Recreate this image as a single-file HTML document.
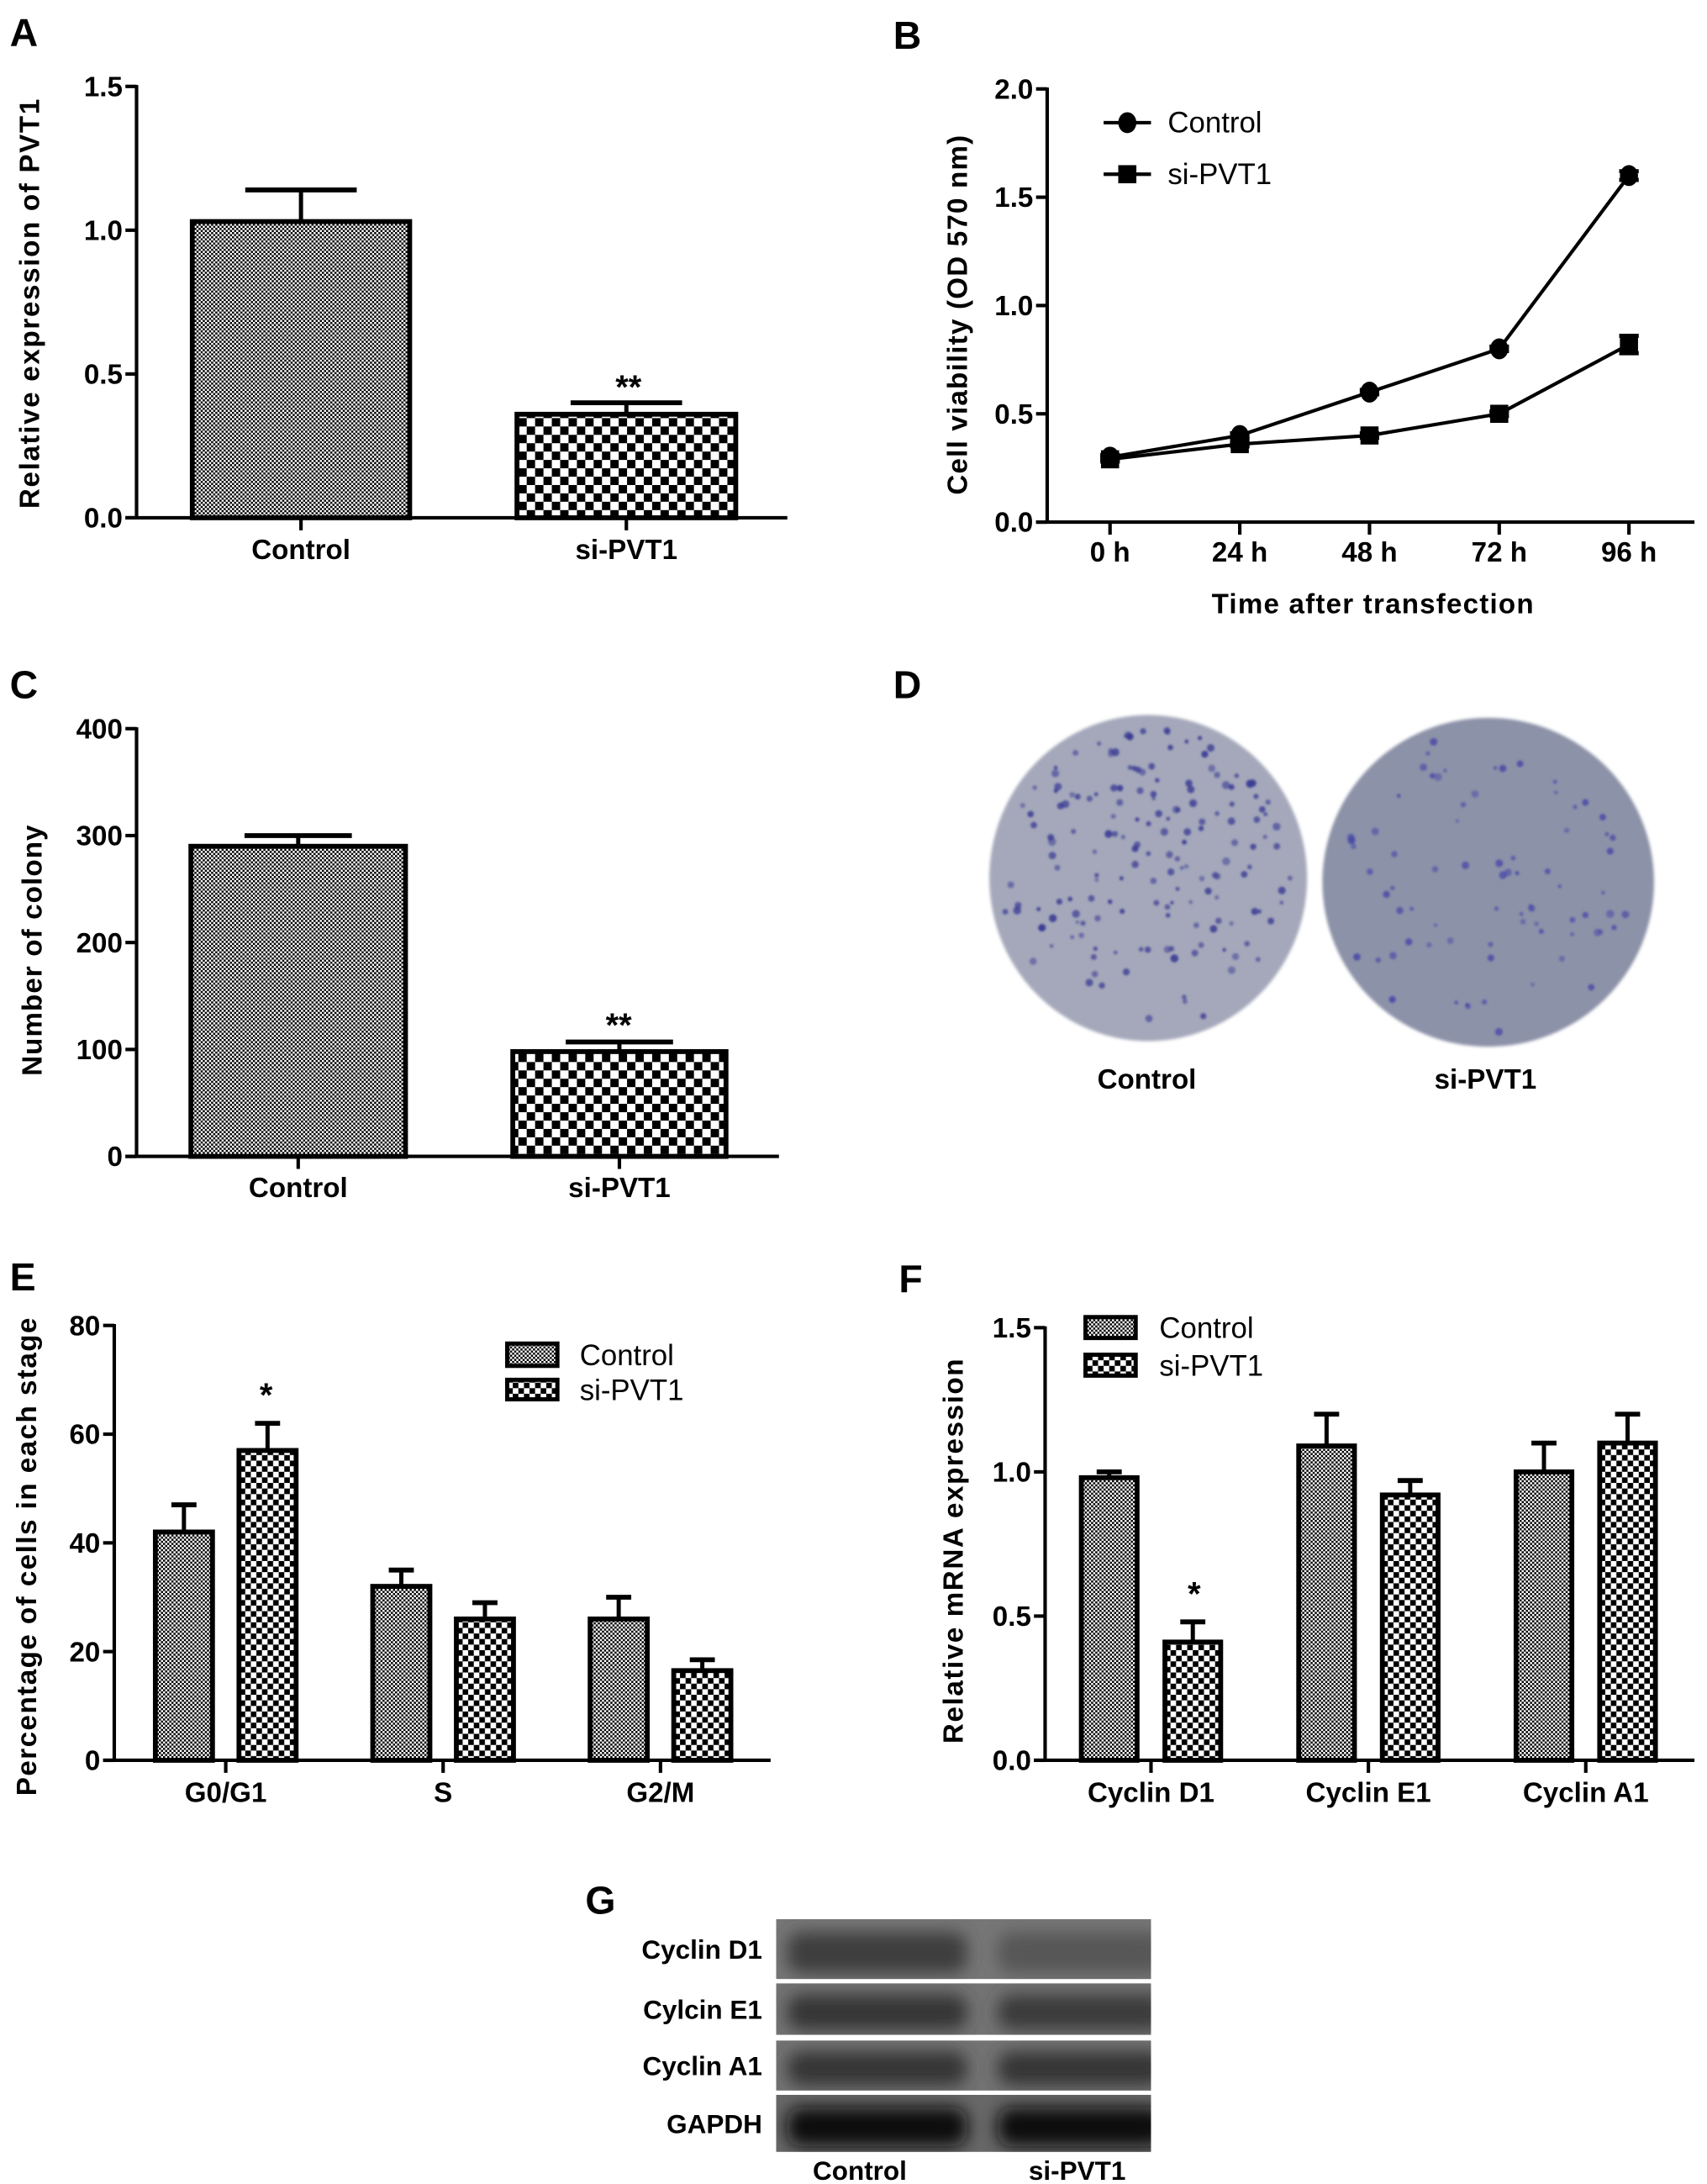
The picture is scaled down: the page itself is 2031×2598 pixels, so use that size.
<!DOCTYPE html>
<html><head><meta charset="utf-8">
<style>
html,body{margin:0;padding:0;background:#fff;}
svg{display:block;}
text{font-family:"Liberation Sans",Arial,sans-serif;}
</style></head>
<body>
<svg id="fig" xmlns="http://www.w3.org/2000/svg" width="2031" height="2598" viewBox="0 0 1225 1567" preserveAspectRatio="none">
<defs>
<pattern id="pFine" width="3" height="3" patternUnits="userSpaceOnUse">
<rect width="3" height="3" fill="#fff"/><rect width="1.5" height="1.5" fill="#000"/><rect x="1.5" y="1.5" width="1.5" height="1.5" fill="#000"/>
</pattern>
<pattern id="pCoarse" width="12" height="12" patternUnits="userSpaceOnUse">
<rect width="12" height="12" fill="#fff"/><rect width="6" height="6" fill="#000"/><rect x="6" y="6" width="6" height="6" fill="#000"/>
</pattern>
<pattern id="pCoarseL" width="8" height="8" patternUnits="userSpaceOnUse">
<rect width="8" height="8" fill="#fff"/><rect width="4" height="4" fill="#000"/><rect x="4" y="4" width="4" height="4" fill="#000"/>
</pattern>
<filter id="blur6" x="-20%" y="-50%" width="140%" height="200%"><feGaussianBlur stdDeviation="6"/></filter>
<filter id="blur1"><feGaussianBlur stdDeviation="1.2"/></filter>
<filter id="blur2"><feGaussianBlur stdDeviation="0.8"/></filter>
</defs>
<g id="root"></g>
</svg>
<script>
// ---------- Panel A data ----------
const aCategories = ["Control", "si-PVT1"];
const aValues = [1.03, 0.36];
const aErrors = [0.11, 0.04];
const aTicks = [0, 0.5, 1.0, 1.5];
const aTickLabels = ["0.0", "0.5", "1.0", "1.5"];
// ---------- Panel B data ----------
const bTimes = ["0 h", "24 h", "48 h", "72 h", "96 h"];
const bControl = [0.30, 0.40, 0.60, 0.80, 1.60];
const bControlErr = [0.01, 0.01, 0.01, 0.01, 0.02];
const bSi = [0.29, 0.36, 0.40, 0.50, 0.82];
const bSiErr = [0.01, 0.01, 0.01, 0.01, 0.04];
const bTicks = [0, 0.5, 1.0, 1.5, 2.0];
const bTickLabels = ["0.0", "0.5", "1.0", "1.5", "2.0"];
// ---------- Panel C data ----------
const cCategories = ["Control", "si-PVT1"];
const cValues = [290, 98];
const cErrors = [10, 9];
const cTicks = [0, 100, 200, 300, 400];
const cTickLabels = ["0", "100", "200", "300", "400"];
// ---------- Panel E data ----------
const eCategories = ["G0/G1", "S", "G2/M"];
const eControl = [42, 32, 26];
const eControlErr = [5, 3, 4];
const eSi = [57, 26, 16.5];
const eSiErr = [5, 3, 2];
const eTicks = [0, 20, 40, 60, 80];
const eTickLabels = ["0", "20", "40", "60", "80"];
// ---------- Panel F data ----------
const fCategories = ["Cyclin D1", "Cyclin E1", "Cyclin A1"];
const fControl = [0.98, 1.09, 1.00];
const fControlErr = [0.02, 0.11, 0.10];
const fSi = [0.41, 0.92, 1.10];
const fSiErr = [0.07, 0.05, 0.10];
const fTicks = [0, 0.5, 1.0, 1.5];
const fTickLabels = ["0.0", "0.5", "1.0", "1.5"];
// ---------- Panel G data ----------
const gRows = ["Cyclin D1", "Cylcin E1", "Cyclin A1", "GAPDH"];
const gControlDark = [0.55, 0.62, 0.62, 0.92];
const gSiDark = [0.35, 0.58, 0.62, 0.92];

const NS = "http://www.w3.org/2000/svg";
const root = document.getElementById('root');
function mk(tag, attrs, parent) {
  const e = document.createElementNS(NS, tag);
  for (const k in attrs) e.setAttribute(k, attrs[k]);
  (parent || root).appendChild(e);
  return e;
}
function txt(s, x, y, size, weight, anchor, parent, extra) {
  const t = mk('text', Object.assign({x: x, y: y, 'font-size': size, 'font-weight': weight, 'text-anchor': anchor, fill: '#000'}, extra || {}), parent);
  t.textContent = s;
  return t;
}
function linScale(d0, d1, r0, r1) { return v => r0 + (v - d0) * (r1 - r0) / (d1 - d0); }

function panelLetter(ch, x, y) {
  const t = txt(ch, x, y, 28, 'bold', 'start');
  
  
}

function yAxis(g, ax, yTop, yBot, ticks, labels, yS, panel) {
  const a = mk('line', {x1: ax, y1: yTop - 1, x2: ax, y2: yBot, stroke: '#000', 'stroke-width': 2.5}, g);
  
  
  ticks.forEach((v, i) => {
    const y = yS(v);
    const tk = mk('line', {x1: ax - 8, y1: y, x2: ax, y2: y, stroke: '#000', 'stroke-width': 2.5}, g);
    
    
    const t = txt(labels[i], ax - 10, y + 7, 20, 'bold', 'end', g);
    
    
  });
}
function xAxis(g, x0, x1, y, panel) {
  const a = mk('line', {x1: x0 - 8, y1: y, x2: x1, y2: y, stroke: '#000', 'stroke-width': 2.5}, g);
  
  
}
function xTick(g, x, y, label, ly, panel) {
  const tk = mk('line', {x1: x, y1: y, x2: x, y2: y + 9, stroke: '#000', 'stroke-width': 2.5}, g);
  
  
  const t = txt(label, x, ly, 20, 'bold', 'middle', g);
  
  
}
function yTitle(g, s, x, cy, len, panel) {
  const t = txt(s, x, cy, 20, 'bold', 'middle', g, {transform: 'rotate(-90 ' + x + ' ' + cy + ')', textLength: len, lengthAdjust: 'spacing'});
  
  
}
function bar(g, x0, x1, v, err, yS, fill, name, capW) {
  const yb = yS(0), yt = yS(v), ye = yS(v + err);
  const cx = (x0 + x1) / 2;
  const l = mk('line', {x1: cx, y1: yt, x2: cx, y2: ye, stroke: '#000', 'stroke-width': 3}, g);
  
  
  const c = mk('line', {x1: cx - capW / 2, y1: ye, x2: cx + capW / 2, y2: ye, stroke: '#000', 'stroke-width': 3.5}, g);
  
  
  const r = mk('rect', {x: x0, y: yt, width: x1 - x0, height: yb - yt, fill: fill, stroke: '#000', 'stroke-width': 3.5}, g);
  
  
}
function star(g, s, x, y, name) {
  const t = txt(s, x, y, 24, 'bold', 'middle', g);
  
  
}

// ===== Panel A =====
(function () {
  const g = mk('g', {});
  
  
  panelLetter('A', 7, 33);
  const ax = 98, yS = linScale(0, 1.5, 371.5, 62);
  const xs = [[138, 294], [371, 528]];
  aValues.forEach((v, i) => {
    bar(g, xs[i][0], xs[i][1], v, aErrors[i], yS, i === 0 ? 'url(#pFine)' : 'url(#pCoarse)', 'a-bar-' + aCategories[i].toLowerCase(), 80);
  });
  yAxis(g, ax, 62, 371.5, aTicks, aTickLabels, yS, 'a');
  xAxis(g, ax, 565, 371.5, 'a');
  aCategories.forEach((c, i) => xTick(g, (xs[i][0] + xs[i][1]) / 2, 371.5, c, 401, 'a'));
  star(g, '**', 451, yS(aValues[1] + aErrors[1]) - 3, 'a-significance-marker');
  yTitle(g, 'Relative expression of  PVT1', 28, 218, 294, 'a');
})();

// ===== Panel B =====
(function () {
  const g = mk('g', {});
  
  
  panelLetter('B', 641, 35);
  const ax = 751.5, yS = linScale(0, 2, 374.6, 63.8);
  const xS = i => 796.6 + i * 93.1;
  yAxis(g, ax, 63.8, 374.6, bTicks, bTickLabels, yS, 'b');
  xAxis(g, ax, 1216, 374.6, 'b');
  bTimes.forEach((t, i) => xTick(g, xS(i), 374.6, t, 403, 'b'));
  const tt = txt('Time after transfection', 985, 440, 20, 'bold', 'middle', g, {textLength: 231, lengthAdjust: 'spacing'});
  
  
  yTitle(g, 'Cell viability (OD 570 nm)', 694, 226, 258, 'b');
  function series(vals, errs, kind, name) {
    const pts = vals.map((v, i) => xS(i) + ',' + yS(v)).join(' ');
    const pl = mk('polyline', {points: pts, fill: 'none', stroke: '#000', 'stroke-width': 2.5}, g);
    
    
    vals.forEach((v, i) => {
      const x = xS(i), y = yS(v);
      const e = mk('line', {x1: x, y1: yS(v - errs[i]), x2: x, y2: yS(v + errs[i]), stroke: '#000', 'stroke-width': 3}, g);
      
      
      const c1 = mk('line', {x1: x - 7, y1: yS(v - errs[i]), x2: x + 7, y2: yS(v - errs[i]), stroke: '#000', 'stroke-width': 3}, g);
      
      
      const c2 = mk('line', {x1: x - 7, y1: yS(v + errs[i]), x2: x + 7, y2: yS(v + errs[i]), stroke: '#000', 'stroke-width': 3}, g);
      
      
      let m;
      if (kind === 'circle') m = mk('ellipse', {cx: x, cy: y, rx: 6.5, ry: 7.5, fill: '#000'}, g);
      else m = mk('rect', {x: x - 6.5, y: y - 6.5, width: 13, height: 13, fill: '#000'}, g);
      
      
    });
  }
  series(bSi, bSiErr, 'square', 'b-si-pvt1');
  series(bControl, bControlErr, 'circle', 'b-control');
  const l1 = mk('line', {x1: 792, y1: 88, x2: 826, y2: 88, stroke: '#000', 'stroke-width': 2.5}, g);
  
  
  const m1 = mk('ellipse', {cx: 809, cy: 88, rx: 6.5, ry: 7.5, fill: '#000'}, g);
  
  
  const t1 = txt('Control', 838, 95, 21, 'normal', 'start', g);
  
  
  const l2 = mk('line', {x1: 792, y1: 125, x2: 826, y2: 125, stroke: '#000', 'stroke-width': 2.5}, g);
  
  
  const m2 = mk('rect', {x: 802.5, y: 118.5, width: 13, height: 13, fill: '#000'}, g);
  
  
  const t2 = txt('si-PVT1', 838, 132, 21, 'normal', 'start', g);
  
  
})();

// ===== Panel C =====
(function () {
  const g = mk('g', {});
  
  
  panelLetter('C', 7, 501);
  const ax = 98, yS = linScale(0, 400, 829.7, 522.8);
  const xs = [[137, 291], [368, 521]];
  cValues.forEach((v, i) => {
    bar(g, xs[i][0], xs[i][1], v, cErrors[i], yS, i === 0 ? 'url(#pFine)' : 'url(#pCoarse)', 'c-bar-' + cCategories[i].toLowerCase(), 77);
  });
  yAxis(g, ax, 522.8, 829.7, cTicks, cTickLabels, yS, 'c');
  xAxis(g, ax, 559, 829.7, 'c');
  cCategories.forEach((c, i) => xTick(g, (xs[i][0] + xs[i][1]) / 2, 829.7, c, 859, 'c'));
  star(g, '**', 444, yS(cValues[1] + cErrors[1]) - 4, 'c-significance-marker');
  yTitle(g, 'Number of colony', 30, 682, 180, 'c');
})();

// ===== Panel D (colony images) =====
(function () {
  const g = mk('g', {});
  
  
  panelLetter('D', 641, 501);
  let seed = 7;
  function rnd() { seed = (seed * 16807) % 2147483647; return seed / 2147483647; }
  function dish(cx, cy, rx, ry, fill, n, dot, name) {
    const e = mk('ellipse', {cx: cx, cy: cy, rx: rx, ry: ry, fill: fill, filter: 'url(#blur1)'}, g);
    
    
    const dg = mk('g', {filter: 'url(#blur2)'}, g);
    for (let i = 0; i < n; i++) {
      const a = rnd() * Math.PI * 2, r = Math.sqrt(rnd()) * 0.93;
      const s = 1.3 + rnd() * 1.6;
      const d = mk('circle', {cx: cx + Math.cos(a) * r * rx, cy: cy + Math.sin(a) * r * ry, r: s, fill: dot, opacity: 0.5 + rnd() * 0.4}, dg);
      
      
    }
  }
  dish(824, 630, 114, 117, '#a4a8ba', 170, '#3a3a94', 'd-dish-control');
  dish(1068, 633, 119, 118, '#8c92a8', 75, '#4848a8', 'd-dish-si-pvt1');
  const t1 = txt('Control', 823, 781, 20, 'bold', 'middle', g);
  
  
  const t2 = txt('si-PVT1', 1066, 781, 20, 'bold', 'middle', g);
  
  
})();

function grouped(g, panel, cats, ctrl, ctrlE, si, siE, ticks, labels, ax, xEnd, yTop, yBot, vmax, centers, bw, gapHalf) {
  const yS = linScale(0, vmax, yBot, yTop);
  cats.forEach((c, i) => {
    const cx = centers[i];
    bar(g, cx - gapHalf - bw, cx - gapHalf, ctrl[i], ctrlE[i], yS, 'url(#pFine)', panel + '-bar-control-' + i, 18);
    bar(g, cx + gapHalf, cx + gapHalf + bw, si[i], siE[i], yS, 'url(#pCoarseL)', panel + '-bar-si-pvt1-' + i, 18);
  });
  yAxis(g, ax, yTop, yBot, ticks, labels, yS, panel);
  xAxis(g, ax, xEnd, yBot, panel);
  cats.forEach((c, i) => xTick(g, centers[i], yBot, c, yBot + 30, panel));
  return yS;
}
function legendBox(g, x, y, w, h, fill, label, tx, name) {
  const r = mk('rect', {x: x, y: y, width: w, height: h, fill: fill, stroke: '#000', 'stroke-width': 3}, g);
  
  
  const t = txt(label, tx, y + h / 2 + 7.5, 21, 'normal', 'start', g);
  
  
}

// ===== Panel E =====
(function () {
  const g = mk('g', {});
  
  
  panelLetter('E', 7, 926);
  const yS = grouped(g, 'e', eCategories, eControl, eControlErr, eSi, eSiErr, eTicks, eTickLabels, 82, 553, 951, 1263, 80, [162, 318, 474], 41, 9.5);
  star(g, '*', 191, yS(eSi[0] + eSiErr[0]) - 12, 'e-significance-marker');
  legendBox(g, 364, 964, 36, 16, 'url(#pFine)', 'Control', 416, 'e-legend-control');
  legendBox(g, 364, 990, 36, 14, 'url(#pCoarseL)', 'si-PVT1', 416, 'e-legend-si-pvt1');
  yTitle(g, 'Percentage of cells in each stage', 26, 1117, 343, 'e');
})();

// ===== Panel F =====
(function () {
  const g = mk('g', {});
  
  
  panelLetter('F', 645, 927);
  const yS = grouped(g, 'f', fCategories, fControl, fControlErr, fSi, fSiErr, fTicks, fTickLabels, 750, 1216, 952.6, 1263, 1.5, [826, 982, 1138], 40, 10);
  star(g, '*', 857, yS(fSi[0] + fSiErr[0]) - 12, 'f-significance-marker');
  legendBox(g, 779, 945, 36, 15, 'url(#pFine)', 'Control', 832, 'f-legend-control');
  legendBox(g, 779, 972, 36, 15, 'url(#pCoarseL)', 'si-PVT1', 832, 'f-legend-si-pvt1');
  yTitle(g, 'Relative mRNA expression', 691, 1113, 276, 'f');
})();

// ===== Panel G (western blot) =====
(function () {
  const g = mk('g', {});
  
  
  panelLetter('G', 420, 1373);
  const rowsY = [[1377, 1420], [1423, 1460], [1464, 1500], [1503, 1544]];
  const bx0 = 557, bx1 = 826, gapX = 704;
  gRows.forEach((name, i) => {
    const y0 = rowsY[i][0], y1 = rowsY[i][1];
    const cl = mk('clipPath', {id: 'clip' + i}, g);
    mk('rect', {x: bx0, y: y0, width: bx1 - bx0, height: y1 - y0}, cl);
    const rg = mk('g', {'clip-path': 'url(#clip' + i + ')'}, g);
    
    
    const bgL = 140 - gControlDark[i] * 40;
    mk('rect', {x: bx0, y: y0, width: bx1 - bx0, height: y1 - y0, fill: 'rgb(' + bgL + ',' + bgL + ',' + bgL + ')'}, rg);
    const h = y1 - y0;
    [[bx0 + 8, gapX - 10, gControlDark[i], 'control'], [gapX + 12, bx1 + 10, gSiDark[i], 'si-pvt1']].forEach(b => {
      const L = Math.round(130 - b[2] * 125);
      const band = mk('rect', {x: b[0], y: y0 + h * 0.22, width: b[1] - b[0], height: h * 0.68, rx: 10, fill: 'rgb(' + L + ',' + L + ',' + L + ')', filter: 'url(#blur6)'}, rg);
      
      
    });
    const t = txt(name, 547, (y0 + y1) / 2 + 7, 19, 'bold', 'end', g);
    
    
  });
  const c1 = txt('Control', 617, 1564, 19, 'bold', 'middle', g);
  
  
  const c2 = txt('si-PVT1', 773, 1564, 19, 'bold', 'middle', g);
  
  
})();
</script>
</body></html>
